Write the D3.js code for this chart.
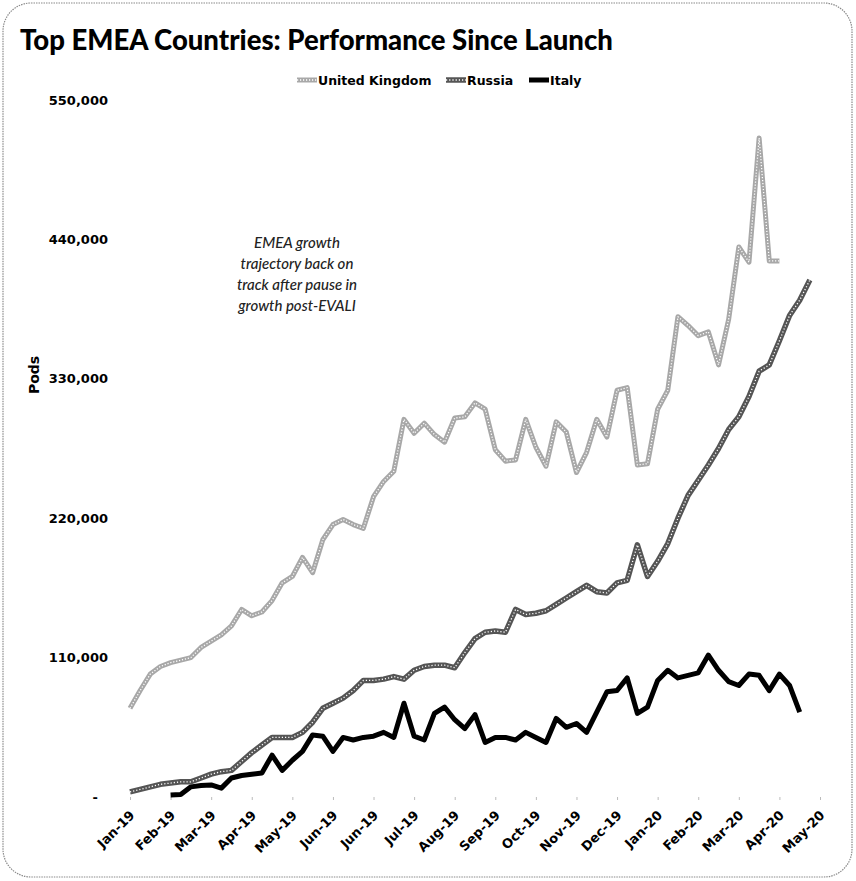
<!DOCTYPE html>
<html>
<head>
<meta charset="utf-8">
<script src="https://cdn.jsdelivr.net/npm/d3@7"></script>
<style>
  body { margin: 0; background: #fff; }
  svg { display: block; font-family: "Lato", "DejaVu Sans", sans-serif; }
</style>
</head>
<body>
<svg id="chart" width="856" height="881"></svg>
<script>
// ---- data (thousands of pods, weekly) ----
const tickLabels = ["Jan-19","Feb-19","Mar-19","Apr-19","May-19","Jun-19","Jun-19","Jul-19","Aug-19","Sep-19","Oct-19","Nov-19","Dec-19","Jan-20","Feb-20","Mar-20","Apr-20","May-20"];
const seriesNames = ["United Kingdom", "Russia", "Italy"];
const ukValues = [70,84,97,103,106,108,110,118,123,128,135,148,143,146,155,169,174,189,177,203,215,219,215,212,237,249,257,298,287,295,286,280,299,300,311,306,274,265,266,298,276,261,296,288,256,272,298,284,321,323,262,263,306,321,379,372,364,367,341,377,434,422,520,423,423];
const russiaValues = [4,6,8,10,11,12,12,15,18,20,21,28,35,41,47,47,47,51,59,70,74,78,84,92,92,93,95,93,100,103,104,104,102,114,125,130,131,130,148,144,145,147,152,157,162,167,162,161,169,171,199,174,186,200,220,238,250,262,275,290,300,316,336,341,360,380,392,408];
const italyValues = [null,null,null,null,1.6,2,8,9,9.5,7,15,17,18,19,33,21,29,36,49,48,36,47,45,47,48,51,47,74,48,45,66,71,61,54,65,43,47,47,45,51,47,43,62,55,58,51,67,83,84,94,66,71,92,100,94,96,98,112,100,91,88,97,96,84,97,88,67];
const yTicks = [0,110000,220000,330000,440000,550000];

const labelFont = "'DejaVu Sans', sans-serif";
const svg = d3.select("#chart");

// border
svg.append("rect").attr("x",3).attr("y",3).attr("width",849).attr("height",874)
  .attr("rx",28).attr("fill","#fff").attr("stroke","#8a8a8a").attr("stroke-width",1.2)
  .attr("stroke-dasharray","1.5,1");

// title
svg.append("text").attr("x",20).attr("y",50).text("Top EMEA Countries: Performance Since Launch")
  .attr("font-size",27.5).attr("font-weight",900).attr("fill","#000");

const x = d3.scaleLinear().domain([0,68]).range([130,820]);
const y = d3.scaleLinear().domain([0,550000]).range([797,100]);

// y axis labels
const yAxis = d3.axisLeft(y).tickValues(yTicks).tickSize(0)
  .tickFormat(d => d === 0 ? "-" : d3.format(",")(d));
const gy = svg.append("g").attr("transform","translate(111,0)").call(yAxis);
gy.select(".domain").remove();
gy.selectAll("text").attr("font-size",13).attr("font-weight",700).attr("fill","#000")
  .attr("font-family",labelFont)
  .attr("dx", d => d === 0 ? -10 : 0);

// y title
svg.append("text").attr("transform","translate(39,375) rotate(-90)").attr("text-anchor","middle")
  .attr("font-family",labelFont).attr("font-size",14).attr("font-weight",700).text("Pods");

// x axis
const tickIdx = tickLabels.map((d,i)=>i*4);
const xAxis = d3.axisBottom(x).tickValues(tickIdx).tickSize(3)
  .tickFormat((d,i)=>tickLabels[i]);
const gx = svg.append("g").attr("transform","translate(0,797)").call(xAxis);
gx.select(".domain").remove();
gx.selectAll(".tick line").attr("stroke","#bbb");
gx.selectAll("text").attr("font-size",13).attr("font-weight",700).attr("fill","#000")
  .attr("font-family",labelFont)
  .attr("text-anchor","end").attr("dy",0).attr("y",0)
  .attr("transform","translate(5,19) rotate(-45)");

// lines
const lineOf = vals => d3.line().defined(d => d.v != null).x(d=>x(d.i)).y(d=>y(d.v*1000))(vals.map((v,i)=>({i,v})));

const styles = [
  {vals: ukValues, base:"#a8a8a8", w:5, over:"#fff", ow:1.3, dash:"1.2,1.8"},
  {vals: russiaValues, base:"#555", w:5.5, over:"#fff", ow:1.3, dash:"1.2,2"},
  {vals: italyValues, base:"#000", w:5, over:null}
];
styles.forEach(s=>{
  const p = lineOf(s.vals);
  svg.append("path").attr("d",p).attr("fill","none").attr("stroke",s.base)
    .attr("stroke-width",s.w).attr("stroke-linejoin","round");
  if (s.over) svg.append("path").attr("d",p).attr("fill","none").attr("stroke",s.over)
    .attr("stroke-width",s.ow).attr("stroke-dasharray",s.dash).attr("stroke-linejoin","round");
});

// legend
const legendItems = [
  {name: seriesNames[0], x: 297, st: styles[0]},
  {name: seriesNames[1], x: 446, st: styles[1]},
  {name: seriesNames[2], x: 529, st: styles[2]}
];
legendItems.forEach(it=>{
  const ly = 80;
  svg.append("line").attr("x1",it.x).attr("x2",it.x+20).attr("y1",ly).attr("y2",ly)
    .attr("stroke",it.st.base).attr("stroke-width",it.st.w);
  if (it.st.over) svg.append("line").attr("x1",it.x).attr("x2",it.x+20).attr("y1",ly).attr("y2",ly)
    .attr("stroke",it.st.over).attr("stroke-width",it.st.ow).attr("stroke-dasharray",it.st.dash);
  svg.append("text").attr("x",it.x+21).attr("y",ly+5).attr("font-family",labelFont)
    .attr("font-size",12.5).attr("font-weight",700).text(it.name);
});

// annotation
const ann = ["EMEA growth","trajectory back on","track after pause in","growth post-EVALI"];
svg.append("text").attr("text-anchor","middle").attr("font-size",15).attr("font-style","italic")
  .attr("font-weight",500).attr("fill","#222")
  .selectAll("tspan").data(ann).join("tspan").attr("x",297).attr("y",(d,i)=>248+i*21).text(d=>d);
</script>
</body>
</html>
